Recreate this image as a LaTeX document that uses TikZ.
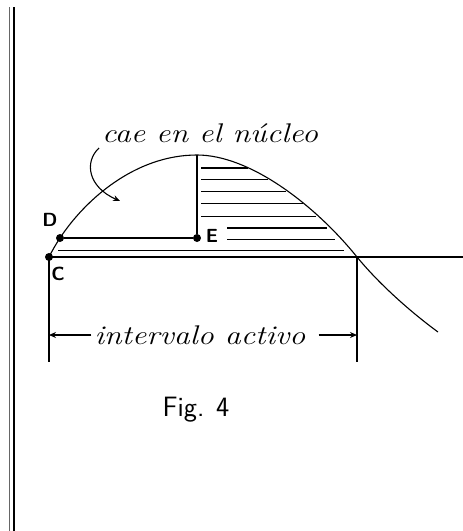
\documentclass[tikz,border=0pt]{standalone}
\usepackage{tikz}
\usetikzlibrary{arrows.meta, positioning}

\begin{document}
\begin{tikzpicture}[x=1pt, y=-1pt,
    line/.style={line width=1.1pt},
    hatch/.style={line width=1.1pt},
    dot/.style={circle, fill, inner sep=0pt, minimum size=8pt},
    letter/.style={font=\sffamily\bfseries\fontsize{19}{19}\selectfont},
    hand/.style={font=\itshape\fontsize{27}{27}\selectfont},
    arrow/.style={-{Stealth[length=7pt, width=6pt]}, line width=1.1pt},
]
    \useasboundingbox (0,0) rectangle (463,531);

    % Margin rule
    \coordinate (rule1 top) at (9.5,7);
    \coordinate (rule1 bot) at (9.5,531);
    \coordinate (rule2 top) at (14,7);
    \coordinate (rule2 bot) at (14,531);
    \draw[line width=0.8pt, black!60] (rule1 top) -- (rule1 bot);
    \draw[line width=1.1pt] (rule2 top) -- (rule2 bot);

    % Points on the curve
    \coordinate (C) at (49,257);
    \coordinate (D) at (60,238);
    \coordinate (top) at (197,155);
    \coordinate (X) at (357,257);
    \coordinate (tail) at (438,332);
    \coordinate (axis end) at (463,257);

    % Axis
    \draw[line] (C) -- (axis end);

    % Curve
    \draw[line] (C) .. controls (52,251) and (56,244) .. (D)
        .. controls (85,200) and (135,155) .. (top)
        .. controls (250,155) and (315,205) .. (X)
        .. controls (380,285) and (412,313) .. (tail);

    % Points
    \node[dot] (Cdot) at (C) {};
    \node[dot] (Ddot) at (D) {};
    \node[dot] (Edot) at (D -| top) {};
    \draw[line] (Ddot) -- (Edot);
    \draw[line] (top) -- (Edot);

    % Hatching
    \foreach \y/\xa/\xb in {168/201/248, 179.5/201/268, 191.5/201/286,
                             203.5/201/303, 216.5/201/316, 228/227/327,
                             239.5/227/335, 250.5/58/344}
        \draw[hatch] (\xa,\y) -- (\xb,\y);

    % Labels
    \node[letter] (Dlab) at (50,220) {D};
    \node[letter] (Elab) at (212,236) {E};
    \node[letter] (Clab) at (58,274) {C};

    % Annotation
    \node[hand] (cae) at (210,133) {\scalebox{1.18}[1]{cae en el núcleo}};
    \coordinate (cae arrow) at (99,148);
    \coordinate (cae tip) at (120,201);
    \draw[arrow] (cae arrow) .. controls (84,162) and (88,187) .. (cae tip);

    % Active interval
    \coordinate (Cfoot) at (49,362);
    \coordinate (Xfoot) at (357,362);
    \draw[line] (C) -- (Cfoot);
    \draw[line] (X) -- (Xfoot);
    \node[hand, inner sep=1pt] (interval) at (200,335) {\scalebox{1.18}[1]{intervalo activo}};
    \draw[arrow] ([xshift=-2pt]interval.west) -- (interval.west -| C);
    \draw[arrow] ([xshift=12pt]interval.east) -- (interval.east -| X);

    % Caption
    \node[font=\sffamily\fontsize{28}{28}\selectfont] (fig) at (196,410) {Fig. 4};
\end{tikzpicture}
\end{document}
